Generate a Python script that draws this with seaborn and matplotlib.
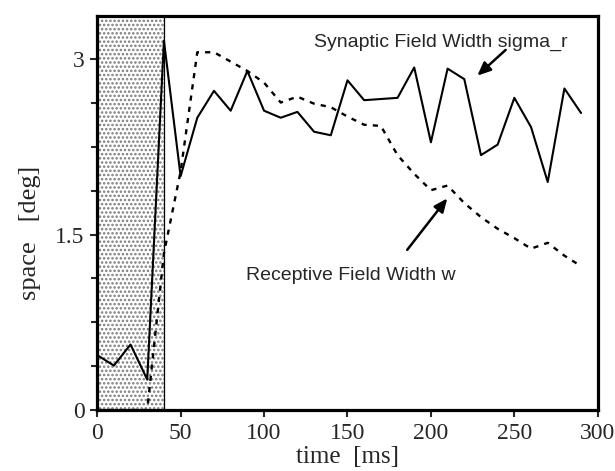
import numpy as np
import pandas as pd
import seaborn as sns
import matplotlib.pyplot as plt
from matplotlib.ticker import MultipleLocator

# time axis (ms)
time_ms = list(range(0, 300, 10))

# Synaptic Field Width sigma_r (solid)
sigma_r = [0.47, 0.38, 0.56, 0.26, 3.16, 2.00, 2.50, 2.73, 2.56, 2.90,
           2.56, 2.50, 2.55, 2.38, 2.35, 2.82, 2.65, 2.66, 2.67, 2.93,
           2.29, 2.92, 2.83, 2.18, 2.27, 2.67, 2.42, 1.95, 2.75, 2.54]

# Receptive Field Width w (dashed)
rf_w = [0.0, 0.0, 0.0, 0.0, 1.34, 2.04, 3.06, 3.06, 2.98, 2.90,
        2.80, 2.63, 2.68, 2.62, 2.59, 2.51, 2.44, 2.43, 2.18, 2.02,
        1.88, 1.92, 1.77, 1.65, 1.55, 1.47, 1.38, 1.43, 1.32, 1.23]

stim_start, stim_end = 0, 40

df = pd.DataFrame({"time": time_ms, "sigma_r": sigma_r, "w": rf_w})

sns.set_style("ticks")
plt.rcParams["font.family"] = ["Liberation Serif", "DejaVu Serif"]
plt.rcParams["hatch.linewidth"] = 1.2

fig = plt.figure(figsize=(6.15, 4.71), dpi=100)
ax = fig.add_axes([0.158, 0.1295, 0.814, 0.8365])

# shaded stimulus period
ax.axvspan(stim_start, stim_end, facecolor="white", edgecolor="#7a7a7a",
           hatch="....", linewidth=0, zorder=0)
ax.axvline(stim_end, color="black", linewidth=0.9, zorder=1)

sns.lineplot(data=df, x="time", y="sigma_r", ax=ax, color="black",
             linewidth=1.5, zorder=3)
sns.lineplot(data=df, x="time", y="w", ax=ax, color="black",
             linewidth=1.7, linestyle=(0, (2.2, 2.6)), zorder=3, clip_on=False)

ax.set_xlim(0, 300)
ax.set_ylim(0, 3.37)
ax.set_xticks([0, 50, 100, 150, 200, 250, 300])
ax.set_yticks([0, 1.5, 3])
ax.set_yticklabels(["0", "1.5", "3"])
ax.yaxis.set_minor_locator(MultipleLocator(0.375))
ax.tick_params(axis="both", which="major", direction="out", length=5,
               width=1.5, labelsize=17, pad=4)
ax.tick_params(axis="y", which="minor", direction="out", length=4, width=1.5)

for sp in ax.spines.values():
    sp.set_linewidth(2.3)
    sp.set_color("black")

ax.set_xlabel("time  [ms]", fontsize=18, labelpad=2)
ax.set_ylabel("space   [deg]", fontsize=19)
ax.yaxis.set_label_coords(-0.112, 0.45)

sans = ["Liberation Sans", "DejaVu Sans"]
arrow = dict(arrowstyle="-|>,head_length=0.8,head_width=0.35",
             color="black", linewidth=1.8, shrinkA=0, shrinkB=0)
ax.annotate("", xy=(227.8, 2.86), xytext=(244.8, 3.08), arrowprops=arrow)
ax.text(205.8, 3.14, "Synaptic Field Width sigma_r", family=sans, fontsize=14,
        ha="center", va="center")
ax.annotate("", xy=(209.8, 1.81), xytext=(185.8, 1.37), arrowprops=arrow)
ax.text(151.8, 1.15, "Receptive Field Width w", family=sans, fontsize=14,
        ha="center", va="center")

plt.savefig("out.png", dpi=100)
